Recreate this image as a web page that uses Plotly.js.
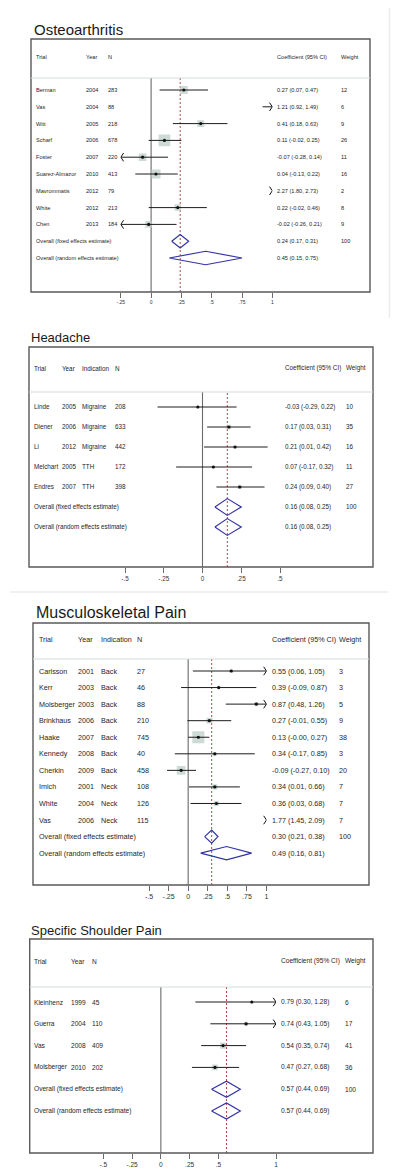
<!DOCTYPE html>
<html><head><meta charset="utf-8">
<script src="https://cdn.plot.ly/plotly-3.0.1.min.js"></script>
<style>html,body{margin:0;padding:0;background:#fff}#chart{width:400px;height:1176px}</style>
</head><body><div id="chart"></div>
<script>
// ================= DATA =================
// Osteoarthritis
const oaTrial  = ['Berman','Vas','Witt','Scharf','Foster','Suarez-Almazor','Mavrommatis','White','Chen'];
const oaYear   = [2004, 2004, 2005, 2006, 2007, 2010, 2012, 2012, 2013];
const oaN      = [283, 88, 218, 678, 220, 413, 79, 213, 184];
const oaCoef   = [0.27, 1.21, 0.41, 0.11, -0.07, 0.04, 2.27, 0.22, -0.02];
const oaLo     = [0.07, 0.92, 0.18, -0.02, -0.28, -0.13, 1.80, -0.02, -0.26];
const oaHi     = [0.47, 1.49, 0.63, 0.25, 0.14, 0.22, 2.73, 0.46, 0.21];
const oaWeight = [12, 6, 9, 26, 11, 16, 2, 8, 9];
const oaPoolCoef = [0.24, 0.45];
const oaPoolLo   = [0.17, 0.15];
const oaPoolHi   = [0.31, 0.75];
const oaPoolW    = [100, null];
const oaTickVals = [-0.25, 0, 0.25, 0.5, 0.75, 1];
const oaTickText = ['-.25', '0', '.25', '.5', '.75', '1'];

// Headache
const haTrial  = ['Linde','Diener','Li','Melchart','Endres'];
const haYear   = [2005, 2006, 2012, 2005, 2007];
const haInd    = ['Migraine','Migraine','Migraine','TTH','TTH'];
const haN      = [208, 633, 442, 172, 398];
const haCoef   = [-0.03, 0.17, 0.21, 0.07, 0.24];
const haLo     = [-0.29, 0.03, 0.01, -0.17, 0.09];
const haHi     = [0.22, 0.31, 0.42, 0.32, 0.40];
const haWeight = [10, 35, 16, 11, 27];
const haPoolCoef = [0.16, 0.16];
const haPoolLo   = [0.08, 0.08];
const haPoolHi   = [0.25, 0.25];
const haPoolW    = [100, null];
const haTickVals = [-0.5, -0.25, 0, 0.25, 0.5];
const haTickText = ['-.5', '-.25', '0', '.25', '.5'];

// Musculoskeletal Pain
const msTrial  = ['Carlsson','Kerr','Molsberger','Brinkhaus','Haake','Kennedy','Cherkin','Imich','White','Vas'];
const msYear   = [2001, 2003, 2003, 2006, 2007, 2008, 2009, 2001, 2004, 2006];
const msInd    = ['Back','Back','Back','Back','Back','Back','Back','Neck','Neck','Neck'];
const msN      = [27, 46, 88, 210, 745, 40, 458, 108, 126, 115];
const msCoef   = [0.55, 0.39, 0.87, 0.27, 0.13, 0.34, -0.09, 0.34, 0.36, 1.77];
const msLo     = [0.06, -0.09, 0.48, -0.01, -0.00, -0.17, -0.27, 0.01, 0.03, 1.45];
const msHi     = [1.05, 0.87, 1.26, 0.55, 0.27, 0.85, 0.10, 0.66, 0.68, 2.09];
const msWeight = [3, 3, 5, 9, 38, 3, 20, 7, 7, 7];
const msPoolCoef = [0.30, 0.49];
const msPoolLo   = [0.21, 0.16];
const msPoolHi   = [0.38, 0.81];
const msPoolW    = [100, null];
const msTickVals = [-0.5, -0.25, 0, 0.25, 0.5, 0.75, 1];
const msTickText = ['-.5', '-.25', '0', '.25', '.5', '.75', '1'];

// Specific Shoulder Pain
const ssTrial  = ['Kleinhenz','Guerra','Vas','Molsberger'];
const ssYear   = [1999, 2004, 2008, 2010];
const ssN      = [45, 110, 409, 202];
const ssCoef   = [0.79, 0.74, 0.54, 0.47];
const ssLo     = [0.30, 0.43, 0.35, 0.27];
const ssHi     = [1.28, 1.05, 0.74, 0.68];
const ssWeight = [6, 17, 41, 36];
const ssPoolCoef = [0.57, 0.57];
const ssPoolLo   = [0.44, 0.44];
const ssPoolHi   = [0.69, 0.69];
const ssPoolW    = [100, null];
const ssTickVals = [-0.5, -0.25, 0, 0.25, 0.5, 1];
const ssTickText = ['-.5', '-.25', '0', '.25', '.5', '1'];

const poolLabels = ['Overall (fixed effects estimate)', 'Overall (random effects estimate)'];

// ================= STYLE / LAYOUT =================
const W = 400, H = 1176;
const FONT = 'Liberation Sans, Arial, Helvetica, sans-serif';
const TXT = '#262626';
const px = v => v / W;
const py = v => 1 - v / H;

const panels = [
  { title: 'Osteoarthritis', trial: oaTrial, year: oaYear, ind: null, n: oaN, coef: oaCoef, lo: oaLo, hi: oaHi, w: oaWeight,
    pc: oaPoolCoef, pl: oaPoolLo, ph: oaPoolHi, pw: oaPoolW, tv: oaTickVals, tt: oaTickText,
    st: { box: [31, 39, 370, 292], sep: 78, tx: 32.5, ty: 30, ts: 15, hy: 57,
          cols: { trial: 35, year: 85, n: 106.5, coef: 276, weight: 340 },
          row0: 90, step: 16.8, range: [-0.25, 1], pxr: [120.8, 272.3], fs: 5.6, tfs: 5, sq: 2.3, dh: 0.4 } },
  { title: 'Headache', trial: haTrial, year: haYear, ind: haInd, n: haN, coef: haCoef, lo: haLo, hi: haHi, w: haWeight,
    pc: haPoolCoef, pl: haPoolLo, ph: haPoolHi, pw: haPoolW, tv: haTickVals, tt: haTickText,
    st: { box: [29, 347, 373, 567], sep: 392, tx: 30, ty: 338, ts: 13, hy: 368,
          cols: { trial: 32.5, year: 61, ind: 80.5, n: 113.5, coef: 283.5, weight: 344.5 },
          row0: 407, step: 20, range: [-0.5, 0.5], pxr: [125, 280], fs: 6.3, tfs: 6.3, sq: 0.75, dh: 0.42 } },
  { title: 'Musculoskeletal Pain', trial: msTrial, year: msYear, ind: msInd, n: msN, coef: msCoef, lo: msLo, hi: msHi, w: msWeight,
    pc: msPoolCoef, pl: msPoolLo, ph: msPoolHi, pw: msPoolW, tv: msTickVals, tt: msTickText,
    st: { box: [33, 623, 369, 885], sep: 659, tx: 35, ty: 612, ts: 16, hy: 639,
          cols: { trial: 37.5, year: 77, ind: 99.5, n: 135.5, coef: 270.5, weight: 337.5 },
          row0: 671, step: 16.56, range: [-0.5, 1], pxr: [149, 266.5], fs: 7.2, tfs: 7, sq: 1.95, dh: 0.4 } },
  { title: 'Specific Shoulder Pain', trial: ssTrial, year: ssYear, ind: null, n: ssN, coef: ssCoef, lo: ssLo, hi: ssHi, w: ssWeight,
    pc: ssPoolCoef, pl: ssPoolLo, ph: ssPoolHi, pw: ssPoolW, tv: ssTickVals, tt: ssTickText,
    st: { box: [29.7, 939, 373, 1153], sep: 987, tx: 30, ty: 930, ts: 13, hy: 961,
          cols: { trial: 32.5, year: 69.5, n: 90.5, coef: 279.5, weight: 343.5 },
          row0: 1002, step: 21.8, range: [-0.5, 1], pxr: [103.3, 276], fs: 6.6, tfs: 6.6, sq: 0.95, dh: 0.37 } }
];

const fmt = v => ((v < 0 || Object.is(v, -0)) ? '-' : '') + Math.abs(v).toFixed(2);
const ciText = (c, l, h) => `${fmt(c)} (${fmt(l)}, ${fmt(h)})`;

const traces = [], shapes = [], annotations = [];
const layout = {
  width: W, height: H, margin: { l: 0, r: 0, t: 0, b: 0 },
  paper_bgcolor: '#ffffff', plot_bgcolor: 'rgba(0,0,0,0)', showlegend: false,
  font: { family: FONT, color: TXT }, hovermode: false
};

function txt(x, y, yref, text, size, extra) {
  annotations.push(Object.assign({
    x: px(x), xref: 'paper', y: y, yref: yref, text: text, showarrow: false,
    xanchor: 'left', yanchor: 'middle', borderpad: 0,
    font: { family: FONT, size: size, color: TXT }
  }, extra || {}));
}

panels.forEach((p, k) => {
  const s = p.st;
  const sfx = k === 0 ? '' : String(k + 1);
  const xa = 'x' + sfx, ya = 'y' + sfx;
  const [bl, bt, br, bb] = s.box;

  layout['xaxis' + sfx] = {
    domain: [px(s.pxr[0]), px(s.pxr[1])], range: s.range, anchor: ya,
    tickmode: 'array', tickvals: p.tv, ticktext: p.tt, ticks: 'outside', ticklen: 5, tickwidth: 1,
    tickcolor: '#6b6b6b', tickfont: { family: FONT, size: s.tfs, color: '#333' },
    showgrid: false, zeroline: false, showline: false, fixedrange: true
  };
  layout['yaxis' + sfx] = {
    domain: [py(bb), py(s.sep)],
    range: [(bb - s.row0) / s.step, (s.sep - s.row0) / s.step],
    visible: false, fixedrange: true
  };

  const nS = p.trial.length;
  const rows = p.trial.map((_, i) => i);

  // weight boxes
  traces.push({ type: 'scatter', mode: 'markers', x: p.coef, y: rows, xaxis: xa, yaxis: ya,
    marker: { symbol: 'square', size: p.w.map(v => s.sq * Math.sqrt(v)), color: '#b8cac5', line: { width: 0 } } });
  // CI lines
  const lx = [], ly = [];
  rows.forEach(i => { lx.push(p.lo[i], p.hi[i], null); ly.push(i, i, null); });
  traces.push({ type: 'scatter', mode: 'lines', x: lx, y: ly, xaxis: xa, yaxis: ya,
    line: { color: '#1c1c1c', width: 1 } });
  // point estimates
  traces.push({ type: 'scatter', mode: 'markers', x: p.coef, y: rows, xaxis: xa, yaxis: ya,
    marker: { symbol: 'circle', size: 3.2, color: '#111' } });
  // arrows for CIs beyond axis range
  const rA = rows.filter(i => p.hi[i] > s.range[1]);
  const lA = rows.filter(i => p.lo[i] < s.range[0]);
  if (rA.length) traces.push({ type: 'scatter', mode: 'markers', x: rA.map(() => s.range[1]), y: rA, xaxis: xa, yaxis: ya,
    marker: { symbol: 'y-right', size: 7, color: '#111', line: { color: '#111', width: 1 } } });
  if (lA.length) traces.push({ type: 'scatter', mode: 'markers', x: lA.map(() => s.range[0]), y: lA, xaxis: xa, yaxis: ya,
    marker: { symbol: 'y-left', size: 7, color: '#111', line: { color: '#111', width: 1 } } });
  // pooled diamonds
  const dx = [], dy = [];
  p.pc.forEach((c, j) => {
    const r = nS + j;
    dx.push(p.pl[j], c, p.ph[j], c, p.pl[j], null);
    dy.push(r, r - s.dh, r, r + s.dh, r, null);
  });
  traces.push({ type: 'scatter', mode: 'lines', x: dx, y: dy, xaxis: xa, yaxis: ya,
    line: { color: '#3333a6', width: 1.2 } });

  // frame, header separator
  shapes.push({ type: 'rect', xref: 'paper', yref: 'paper', x0: px(bl), x1: px(br), y0: py(bb), y1: py(bt),
    line: { color: '#595959', width: 1.4 }, fillcolor: 'rgba(0,0,0,0)' });
  shapes.push({ type: 'line', xref: 'paper', yref: 'paper', x0: px(bl), x1: px(br), y0: py(s.sep), y1: py(s.sep),
    line: { color: '#d6dcdc', width: 1 } });
  // zero line and fixed-effect reference line
  shapes.push({ type: 'line', xref: xa, yref: ya + ' domain', x0: 0, x1: 0, y0: 0, y1: 1, layer: 'below',
    line: { color: '#6a6a6a', width: 1.1 } });
  shapes.push({ type: 'line', xref: xa, yref: ya + ' domain', x0: p.pc[0], x1: p.pc[0], y0: 0, y1: 1, layer: 'below',
    line: { color: '#b04a4a', width: 1, dash: '2px,2px' } });

  // title
  txt(s.tx, py(s.ty), 'paper', p.title, s.ts, { font: { family: FONT, size: s.ts, color: '#1a1a1a' } });
  // headers
  const hy = py(s.hy);
  txt(s.cols.trial, hy, 'paper', 'Trial', s.fs);
  txt(s.cols.year, hy, 'paper', 'Year', s.fs);
  if (p.ind) txt(s.cols.ind, hy, 'paper', 'Indication', s.fs);
  txt(s.cols.n, hy, 'paper', 'N', s.fs);
  txt(s.cols.coef, hy, 'paper', 'Coefficient (95% CI)', s.fs);
  txt(s.cols.weight, hy, 'paper', 'Weight', s.fs);
  // study rows
  rows.forEach(i => {
    txt(s.cols.trial, i, ya, p.trial[i], s.fs);
    txt(s.cols.year, i, ya, String(p.year[i]), s.fs);
    if (p.ind) txt(s.cols.ind, i, ya, p.ind[i], s.fs);
    txt(s.cols.n, i, ya, String(p.n[i]), s.fs);
    txt(s.cols.coef, i, ya, ciText(p.coef[i], p.lo[i], p.hi[i]), s.fs);
    txt(s.cols.weight, i, ya, String(p.w[i]), s.fs);
  });
  // pooled rows
  p.pc.forEach((c, j) => {
    const r = nS + j;
    txt(s.cols.trial, r, ya, poolLabels[j], s.fs);
    txt(s.cols.coef, r, ya, ciText(c, p.pl[j], p.ph[j]), s.fs);
    if (p.pw[j] !== null) txt(s.cols.weight, r, ya, String(p.pw[j]), s.fs);
  });
});

// faint page separators
shapes.push({ type: 'line', xref: 'paper', yref: 'paper', x0: px(389.5), x1: px(389.5), y0: py(8), y1: py(318),
  line: { color: '#ececec', width: 1.5 } });
shapes.push({ type: 'line', xref: 'paper', yref: 'paper', x0: px(10), x1: px(388), y0: py(592), y1: py(592),
  line: { color: '#e4e4e4', width: 1.2 } });

layout.shapes = shapes;
layout.annotations = annotations;

traces.forEach(t => { t.hoverinfo = 'skip'; });
Plotly.newPlot('chart', traces, layout, { staticPlot: true, displayModeBar: false });
</script></body></html>
